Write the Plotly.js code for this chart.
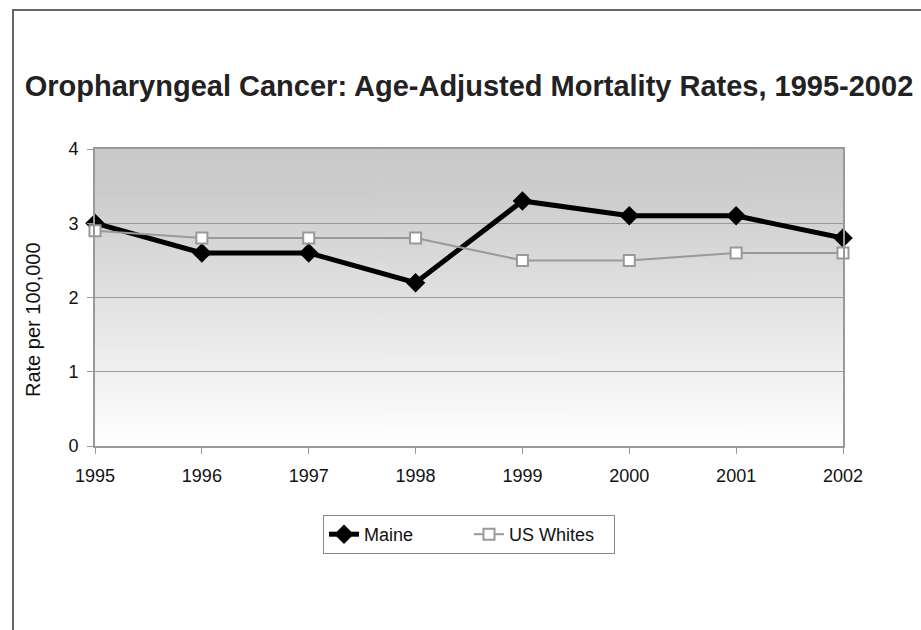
<!DOCTYPE html>
<html>
<head>
<meta charset="utf-8">
<script src="https://cdn.plot.ly/plotly-3.0.1.min.js"></script>
<style>
html,body{margin:0;padding:0;background:#fff;}
#wrap{position:relative;width:921px;height:630px;}
#chart{position:absolute;left:0;top:0;width:921px;height:630px;}
#frame{position:absolute;left:12px;top:9px;width:909px;height:621px;border-left:2px solid #666;border-top:2px solid #666;pointer-events:none;box-sizing:border-box;}
</style>
</head>
<body>
<div id="wrap"><div id="chart"></div><div id="frame"></div></div>
<script>
const years = ['1995','1996','1997','1998','1999','2000','2001','2002'];
const maine = [3.0, 2.6, 2.6, 2.2, 3.3, 3.1, 3.1, 2.8];
const usWhites = [2.9, 2.8, 2.8, 2.8, 2.5, 2.5, 2.6, 2.6];
const yTicks = [0, 1, 2, 3, 4];

// vertical gradient background image for the plot area
const cv = document.createElement('canvas');
cv.width = 4; cv.height = 300;
const ctx = cv.getContext('2d');
const g = ctx.createLinearGradient(0, 0, 0, 300);
g.addColorStop(0, '#c9c9c9');
g.addColorStop(0.15, '#cdcdcd');
g.addColorStop(1, '#ffffff');
ctx.fillStyle = g;
ctx.fillRect(0, 0, 4, 300);
const bgUrl = cv.toDataURL('image/png');

const font = 'Arial, "Liberation Sans", sans-serif';

const traces = [
  {
    x: years, y: maine, name: 'Maine', type: 'scatter', mode: 'lines+markers',
    line: {color: '#000000', width: 5},
    marker: {symbol: 'diamond', size: 15, color: '#000000', line: {width: 0}},
    cliponaxis: false
  },
  {
    x: years, y: usWhites, name: 'US Whites', type: 'scatter', mode: 'lines+markers',
    line: {color: '#999999', width: 2},
    marker: {symbol: 'square', size: 11, color: '#ffffff', line: {color: '#999999', width: 2}},
    cliponaxis: false
  }
];

const layout = {
  width: 921, height: 630,
  margin: {l: 95, r: 78, t: 149, b: 184},
  paper_bgcolor: 'rgba(0,0,0,0)',
  plot_bgcolor: 'rgba(0,0,0,0)',
  font: {family: font, size: 18, color: '#111'},
  title: {
    text: '<b>Oropharyngeal Cancer: Age-Adjusted Mortality Rates, 1995-2002</b>',
    font: {family: font, size: 29, color: '#222'},
    x: 0.5, xref: 'paper', xanchor: 'center',
    y: 1 - 86/630, yref: 'container', yanchor: 'middle'
  },
  xaxis: {
    type: 'category', range: [0, 7],
    showgrid: false, zeroline: false,
    showline: true, linecolor: '#999', linewidth: 2, mirror: true,
    ticks: 'outside', ticklen: 6, tickcolor: '#999', tickwidth: 1,
    ticklabelstandoff: 6,
    tickfont: {family: font, size: 18, color: '#111'},
    fixedrange: true
  },
  yaxis: {
    range: [0, 4], tickvals: yTicks,
    showgrid: true, gridcolor: '#999', gridwidth: 1,
    zeroline: false,
    showline: true, linecolor: '#999', linewidth: 2, mirror: true,
    ticks: 'outside', ticklen: 6, tickcolor: '#999', tickwidth: 1,
    ticklabelstandoff: 5,
    tickfont: {family: font, size: 18, color: '#111'},
    fixedrange: true
  },
  annotations: [{
    text: 'Rate per 100,000', textangle: -90, showarrow: false,
    xref: 'paper', yref: 'paper', x: (33 - 95) / 748, y: (446 - 320) / 297,
    xanchor: 'center', yanchor: 'middle',
    font: {family: font, size: 20, color: '#111'}
  }],
  images: [{
    source: bgUrl, xref: 'paper', yref: 'paper', x: 0, y: 1,
    sizex: 1, sizey: 1, sizing: 'stretch', layer: 'below', xanchor: 'left', yanchor: 'top'
  }],
  showlegend: true,
  legend: {
    orientation: 'h', x: 0.5, xanchor: 'center', y: (446 - 515) / 297, yanchor: 'top',
    bordercolor: '#888', borderwidth: 1, bgcolor: '#fff',
    font: {family: font, size: 18, color: '#111'},
    entrywidth: 100, entrywidthmode: 'pixels',
    tracegroupgap: 0
  }
};

Plotly.newPlot('chart', traces, layout, {displayModeBar: false, staticPlot: true});
</script>
</body>
</html>
